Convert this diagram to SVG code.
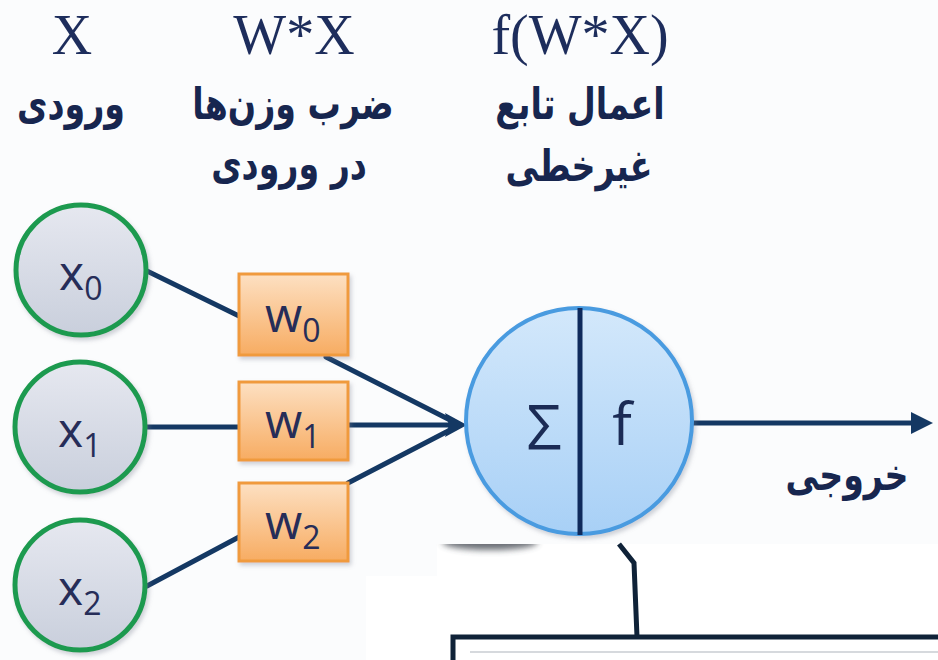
<svg xmlns="http://www.w3.org/2000/svg" width="938" height="660" viewBox="0 0 938 660">
  <defs>
    <linearGradient id="gIn" x1="0" y1="0" x2="0" y2="1">
      <stop offset="0" stop-color="#e6e8f0"/>
      <stop offset="1" stop-color="#c9cfdc"/>
    </linearGradient>
    <linearGradient id="gW" x1="0" y1="0" x2="0" y2="1">
      <stop offset="0" stop-color="#fde0c2"/>
      <stop offset="1" stop-color="#f7ac62"/>
    </linearGradient>
    <linearGradient id="gSum" x1="0" y1="0" x2="0" y2="1">
      <stop offset="0" stop-color="#d3e8fb"/>
      <stop offset="1" stop-color="#a8d0f6"/>
    </linearGradient>
    <filter id="soft" x="-20%" y="-100%" width="140%" height="300%">
      <feGaussianBlur stdDeviation="3"/>
    </filter>
    <filter id="drop" x="-10%" y="-10%" width="130%" height="130%">
      <feDropShadow dx="2" dy="3" stdDeviation="2" flood-color="#7a8090" flood-opacity="0.35"/>
    </filter>
    <clipPath id="belowCut">
      <rect x="430" y="544" width="140" height="20"/>
    </clipPath>
  </defs>
  <style>
    .head { font-family: "Liberation Serif", serif; font-size: 56px; fill: #1d2d5c; text-anchor: middle; }
    .fa { font-family: "DejaVu Sans", "Noto Sans", sans-serif; font-weight: bold; font-size: 35px; fill: #17264f; text-anchor: middle; direction: rtl; }
    .inNode { fill: url(#gIn); stroke: #1f9a4f; stroke-width: 5; filter: url(#drop); }
    .wNode { fill: url(#gW); stroke: #f09a3e; stroke-width: 3; filter: url(#drop); }
    .lbl { font-family: "Open Sans", "DejaVu Sans", sans-serif; font-size: 48px; fill: #262d58; }
    .sub { font-size: 32px; }
    .edge { stroke: #143863; stroke-width: 5; fill: none; stroke-linecap: round; }
    .arrow { fill: #143863; }
    .dark { stroke: #0f2238; stroke-width: 5; fill: none; }
  </style>

  <!-- page background -->
  <rect x="0" y="0" width="938" height="660" fill="#fbfcfd"/>
  <rect x="437" y="544" width="501" height="116" fill="#ffffff"/>
  <rect x="366" y="576" width="71" height="84" fill="#ffffff"/>

  <!-- column headings -->
  <g id="headings">
    <text class="head" x="72" y="54">X</text>
    <text class="head" x="294" y="54">W*X</text>
    <text class="head" x="580" y="54">f(W*X)</text>
    <text class="fa" transform="translate(71,119) scale(0.95,1.25)">ورودی</text>
    <text class="fa" transform="translate(293,119) scale(0.95,1.25)">ضرب وزن&#x200C;ها</text>
    <text class="fa" transform="translate(289,179) scale(0.95,1.25)">در ورودی</text>
    <text class="fa" transform="translate(580,119) scale(0.95,1.25)">اعمال تابع</text>
    <text class="fa" transform="translate(579,181) scale(0.95,1.25)">غیرخطی</text>
  </g>

  <!-- connectors -->
  <g id="connectors">
    <line class="edge" x1="147" y1="271" x2="239" y2="316"/>
    <line class="edge" x1="147" y1="427" x2="239" y2="427"/>
    <line class="edge" x1="147" y1="586" x2="239" y2="537"/>
    <line class="edge" x1="326" y1="357" x2="452" y2="421"/>
    <line class="edge" x1="348" y1="425" x2="452" y2="425"/>
    <line class="edge" x1="348" y1="483" x2="452" y2="429"/>
    <polygon class="arrow" points="467,425 445,413 449,425 445,437"/>
    <line class="edge" x1="693" y1="423" x2="915" y2="423" stroke-linecap="butt"/>
    <polygon class="arrow" points="933,423 911,412 911,434"/>
    <polyline class="dark" points="619,544 634,563 637,637"/>
    <polyline class="dark" points="453,660 453,637 938,637"/>
    <line x1="470" y1="652" x2="938" y2="652" stroke="#d6d9dd" stroke-width="2"/>
  </g>

  <!-- inputs -->
  <g id="x0">
    <circle class="inNode" cx="81" cy="270" r="65"/>
    <text class="lbl" x="59" y="290">x<tspan class="sub" dy="10">0</tspan></text>
  </g>
  <g id="x1">
    <circle class="inNode" cx="80" cy="427" r="65"/>
    <text class="lbl" x="58" y="447">x<tspan class="sub" dy="10">1</tspan></text>
  </g>
  <g id="x2">
    <circle class="inNode" cx="80" cy="585" r="65"/>
    <text class="lbl" x="58" y="605">x<tspan class="sub" dy="10">2</tspan></text>
  </g>

  <!-- weights -->
  <g id="w0">
    <rect class="wNode" x="239" y="274" width="109" height="81"/>
    <text class="lbl" x="265" y="332">w<tspan class="sub" dy="10">0</tspan></text>
  </g>
  <g id="w1">
    <rect class="wNode" x="239" y="382" width="109" height="78"/>
    <text class="lbl" x="265" y="438">w<tspan class="sub" dy="10">1</tspan></text>
  </g>
  <g id="w2">
    <rect class="wNode" x="239" y="483" width="109" height="78"/>
    <text class="lbl" x="265" y="539">w<tspan class="sub" dy="10">2</tspan></text>
  </g>

  <!-- summation / activation unit -->
  <g id="neuron">
    <circle cx="579" cy="421" r="113" fill="url(#gSum)" stroke="#4a9be0" stroke-width="4" filter="url(#drop)"/>
    <line x1="580" y1="308" x2="580" y2="535" stroke="#0f2a5c" stroke-width="5"/>
    <text x="544" y="450" font-family="Open Sans, DejaVu Sans, sans-serif" font-size="62" fill="#1b2b55" text-anchor="middle">Σ</text>
    <text x="622" y="445" font-family="Open Sans, DejaVu Sans, sans-serif" font-size="58" fill="#1b2b55" text-anchor="middle">f</text>
  </g>

  <!-- cut edge shadow -->
  <ellipse cx="490" cy="542" rx="48" ry="8" fill="#3a3f4a" opacity="0.75" filter="url(#soft)" clip-path="url(#belowCut)"/>

  <g id="output">
    <text class="fa" transform="translate(847,490) scale(0.95,1.25)">خروجی</text>
  </g>
</svg>
